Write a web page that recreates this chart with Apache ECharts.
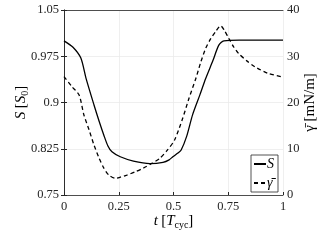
<!DOCTYPE html>
<html><head><meta charset="utf-8">
<script src="https://cdn.jsdelivr.net/npm/echarts@6/dist/echarts.min.js"></script>
<style>html,body{margin:0;padding:0;background:#fff}#c{width:327px;height:245px}</style>
</head><body><div id="c"></div>
<script>
const tS = [0,0.04,0.077,0.10,0.137,0.16,0.182,0.20,0.219,0.257,0.317,0.392,0.452,0.48,0.497,0.52,0.535,0.56,0.587,0.62,0.647,0.68,0.707,0.73,0.8,0.9,1.0];
const S  = [1.0,0.99,0.972,0.94,0.896,0.87,0.847,0.830,0.820,0.812,0.805,0.801,0.803,0.807,0.812,0.818,0.823,0.845,0.880,0.912,0.939,0.968,0.993,1.0,1.001,1.001,1.001];
const tG = [0,0.035,0.069,0.091,0.115,0.137,0.16,0.182,0.205,0.234,0.26,0.287,0.325,0.362,0.40,0.437,0.47,0.505,0.542,0.57,0.602,0.625,0.647,0.67,0.692,0.715,0.732,0.752,0.775,0.797,0.835,0.872,0.932,1.0];
const G  = [25.6,23.5,21.6,17.3,14,10.8,8,5.8,4.3,3.6,3.9,4.3,5.0,5.8,6.8,7.9,9.6,11.9,16.6,20.8,25.2,28.8,31.7,33.8,35.3,36.6,35.6,33.9,32.0,30.6,29.0,27.7,26.3,25.5];
const xTicks = [0,0.25,0.5,0.75,1];
const leftTicks = [0.75,0.825,0.9,0.975,1.05];
const rightTicks = [0,10,20,30,40];

const FONT = 'Liberation Serif';
const axisCol = '#262626';
const gridCol = '#ebebeb';
const fmt = v => String(+v.toFixed(3));
const rich = {
  i:{fontFamily:FONT,fontStyle:'italic',fontSize:15,color:'#000'},
  n:{fontFamily:FONT,fontSize:15,color:'#000'},
  subn:{fontFamily:FONT,fontSize:10,color:'#000',padding:[7,0,0,0]}
};
const chart = echarts.init(document.getElementById('c'));
chart.setOption({
  animation:false,
  grid:{left:64,right:44,top:10,bottom:50,outerBoundsMode:'none',containLabel:false},
  legend:{
    left:251, top:155, orient:'vertical', itemWidth:12, itemHeight:14, itemGap:5,
    padding:[2,4,2,2], borderColor:'#262626', borderWidth:0.8, backgroundColor:'#fff',
    data:['S','γ̄'],
    itemStyle:{opacity:0},
    textStyle:{fontFamily:FONT,fontStyle:'italic',fontSize:14,color:'#000',padding:[0,0,0,-4]}
  },
  xAxis:[{
    type:'value',min:0,max:1,interval:0.25,
    name:'{i|t} {n|[}{i|T}{subn|cyc}{n|]}',nameLocation:'middle',nameGap:18,nameMoveOverlap:false,
    nameTextStyle:{rich},
    axisLine:{lineStyle:{color:axisCol,width:0.8}},
    axisTick:{inside:true,length:3,lineStyle:{color:axisCol}},
    axisLabel:{fontFamily:FONT,fontSize:12.5,color:'#262626',margin:5,formatter:fmt},
    splitLine:{show:true,lineStyle:{color:gridCol,width:0.8}}
  },{
    type:'value',min:0,max:1,interval:0.25,position:'top',
    axisLine:{show:true,lineStyle:{color:axisCol,width:0.8}},
    axisTick:{show:false},axisLabel:{show:false},splitLine:{show:false}
  }],
  yAxis:[{
    type:'value',min:0.75,max:1.05,interval:0.075,
    name:'{i|S} {n|[}{i|S}{subn|0}{n|]}',nameLocation:'middle',nameGap:34,nameRotate:90,nameMoveOverlap:false,
    nameTextStyle:{rich},
    axisLine:{show:true,lineStyle:{color:axisCol,width:0.8}},
    axisTick:{show:true,inside:true,length:3,lineStyle:{color:axisCol}},
    axisLabel:{fontFamily:FONT,fontSize:12.5,color:'#262626',margin:5,formatter:fmt},
    splitLine:{show:true,lineStyle:{color:gridCol,width:0.8}}
  },{
    type:'value',min:0,max:40,interval:10,position:'right',
    name:'{n|γ̄ [mN/m]}',nameLocation:'middle',nameGap:20,nameRotate:90,nameMoveOverlap:false,
    nameTextStyle:{rich},
    axisLine:{show:true,lineStyle:{color:axisCol,width:0.8}},
    axisTick:{show:true,inside:true,length:3,lineStyle:{color:axisCol}},
    axisLabel:{fontFamily:FONT,fontSize:12.5,color:'#262626',margin:4,formatter:fmt},
    splitLine:{show:false}
  }],
  series:[{
    name:'S',type:'line',yAxisIndex:0,symbol:'none',smooth:0.25,
    lineStyle:{color:'#000',width:1.3},itemStyle:{color:'#000'},
    data:tS.map((t,i)=>[t,S[i]])
  },{
    name:'γ̄',type:'line',yAxisIndex:1,symbol:'none',smooth:0.25,
    lineStyle:{color:'#000',width:1.3,type:[4,3]},itemStyle:{color:'#000'},
    data:tG.map((t,i)=>[t,G[i]])
  }]
});
</script></body></html>
